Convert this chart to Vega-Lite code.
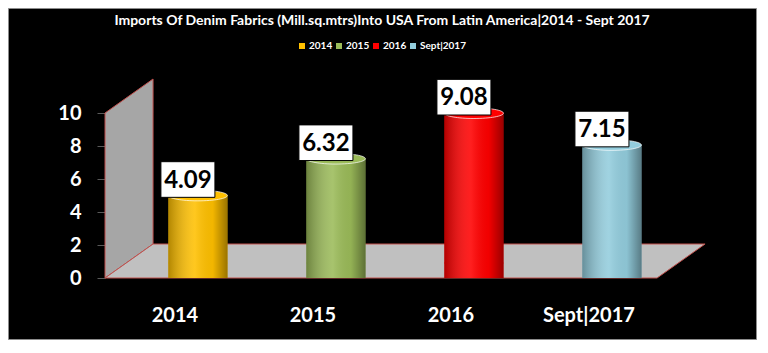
{
  "$schema": "https://vega.github.io/schema/vega-lite/v6.json",
  "width": 748,
  "height": 331,
  "autosize": "none",
  "padding": {"left": 8, "top": 8, "right": 12, "bottom": 14},
  "background": "white",
  "title": {
    "text": "Imports Of Denim Fabrics (Mill.sq.mtrs)Into USA From Latin America|2014 - Sept 2017",
    "color": "white",
    "font": "Lato",
    "fontSize": 14,
    "fontWeight": "bold",
    "anchor": "middle",
    "frame": "group",
    "offset": -20
  },
  "config": {
    "view": {"fill": "black", "stroke": "#8c8c8c", "strokeWidth": 1},
    "font": "Lato",
    "axisY": {
      "offset": -97,
      "domain": false,
      "grid": false,
      "ticks": true,
      "tickColor": "#595959",
      "tickSize": 8,
      "labelPadding": 16,
      "labelColor": "white",
      "labelFont": "Lato",
      "labelFontWeight": "bold",
      "labelFontSize": 20
    },
    "axisX": {
      "offset": -34,
      "domain": false,
      "grid": false,
      "ticks": false,
      "tickSize": 0,
      "labelPadding": 0,
      "labelAngle": 0,
      "labelOffset": -23,
      "labelColor": "white",
      "labelFont": "Lato",
      "labelFontWeight": "bold",
      "labelFontSize": 20
    }
  },
  "datasets": {
    "imports": [
      {"period": "2014", "value": 4.09},
      {"period": "2015", "value": 6.32},
      {"period": "2016", "value": 9.08},
      {"period": "Sept|2017", "value": 7.15}
    ],
    "wall": [
      {"u": -0.674, "lo": 0, "hi": 10},
      {"u": -0.326, "lo": 2.06, "hi": 12.06}
    ],
    "floor": [
      {"d": 0, "u1": -0.674, "u2": 3.326},
      {"d": 2.06, "u1": -0.326, "u2": 3.674}
    ]
  },
  "layer": [
    {
      "layer": [
        {
          "data": {"name": "wall"},
          "mark": {"type": "area", "orient": "vertical", "fill": "#a6a6a6", "stroke": "#c0504d", "strokeWidth": 1},
          "encoding": {
            "x": {"field": "u", "type": "quantitative", "scale": {"domain": [-1.377, 4.043], "nice": false, "zero": false}, "axis": null},
            "y": {"field": "lo", "type": "quantitative", "scale": {"domain": [-3.697, 16.364], "nice": false, "zero": false}, "axis": {"values": [0, 2, 4, 6, 8, 10], "title": null}},
            "y2": {"field": "hi"}
          }
        },
        {
          "data": {"name": "floor"},
          "mark": {"type": "area", "orient": "horizontal", "fill": "#c0c0c0", "stroke": "#c0504d", "strokeWidth": 1},
          "encoding": {
            "y": {"field": "d", "type": "quantitative", "scale": {"domain": [-3.697, 16.364], "nice": false, "zero": false}, "axis": {"values": [0, 2, 4, 6, 8, 10], "title": null}},
            "x": {"field": "u1", "type": "quantitative", "scale": {"domain": [-1.377, 4.043], "nice": false, "zero": false}, "axis": null},
            "x2": {"field": "u2"}
          }
        }
      ]
    },
    {
      "data": {"name": "imports"},
      "encoding": {
        "x": {"field": "period", "type": "nominal", "sort": null, "scale": {"paddingInner": 0, "paddingOuter": 0.71, "align": 0.617}, "axis": {"title": null}}
      },
      "layer": [
        {
          "mark": {"type": "point", "filled": true, "opacity": 1, "shape": "M-1,0A1,0.18,0,1,1,1,0A1,0.18,0,1,1,-1,0Z", "size": 3481, "yOffset": -15},
          "encoding": {
            "y": {"datum": 0, "type": "quantitative", "scale": {"domain": [-3.697, 16.364], "nice": false, "zero": false}, "axis": {"values": [0, 2, 4, 6, 8, 10], "title": null}},
            "color": {"field": "period", "type": "nominal", "sort": null, "scale": {"domain": ["2014", "2015", "2016", "Sept|2017"], "range": ["#ffc000", "#9bbb59", "#ff0000", "#93cddd"]}}
          }
        },
        {
          "mark": {"type": "bar", "width": {"band": 0.43}, "yOffset": -15},
          "encoding": {
            "y": {"field": "value", "type": "quantitative", "scale": {"domain": [-3.697, 16.364], "nice": false, "zero": false}, "axis": {"values": [0, 2, 4, 6, 8, 10], "title": null}},
            "y2": {"datum": 0},
            "color": {
              "field": "period", "type": "nominal", "sort": null,
              "scale": {"domain": ["2014", "2015", "2016", "Sept|2017"], "range": ["#ffc000", "#9bbb59", "#ff0000", "#93cddd"]},
              "legend": {
                "orient": "none", "legendX": 289, "legendY": 33, "direction": "horizontal", "title": null,
                "symbolType": "square", "symbolSize": 36, "symbolStrokeWidth": 0,
                "labelColor": "white", "labelFont": "Lato", "labelFontSize": 10, "labelFontWeight": "bold",
                "labelOffset": 2, "columnPadding": 1
              }
            }
          }
        },
        {
          "mark": {
            "type": "bar", "width": {"band": 0.43}, "yOffset": -15,
            "fill": {"gradient": "linear", "x1": 0, "x2": 1, "y1": 0, "y2": 0, "stops": [
              {"offset": 0, "color": "rgba(0,0,0,0.3)"},
              {"offset": 0.45, "color": "rgba(255,255,255,0.12)"},
              {"offset": 0.75, "color": "rgba(0,0,0,0.05)"},
              {"offset": 1, "color": "rgba(0,0,0,0.4)"}
            ]}
          },
          "encoding": {
            "y": {"field": "value", "type": "quantitative", "scale": {"domain": [-3.697, 16.364], "nice": false, "zero": false}, "axis": {"values": [0, 2, 4, 6, 8, 10], "title": null}},
            "y2": {"datum": 0}
          }
        },
        {
          "mark": {"type": "point", "filled": true, "opacity": 1, "shape": "M-1,0A1,0.18,0,1,1,1,0A1,0.18,0,1,1,-1,0Z", "size": 3481, "yOffset": -15, "stroke": "white", "strokeWidth": 1, "strokeOpacity": 0.7},
          "encoding": {
            "y": {"field": "value", "type": "quantitative", "scale": {"domain": [-3.697, 16.364], "nice": false, "zero": false}, "axis": {"values": [0, 2, 4, 6, 8, 10], "title": null}},
            "color": {"field": "period", "type": "nominal", "sort": null, "scale": {"domain": ["2014", "2015", "2016", "Sept|2017"], "range": ["#ffc000", "#9bbb59", "#ff0000", "#93cddd"]}}
          }
        },
        {
          "mark": {"type": "point", "filled": true, "opacity": 1, "fill": "white", "stroke": "black", "strokeWidth": 1, "shape": "M-1,-0.66L1,-0.66L1,0.66L-1,0.66Z", "size": 2916, "xOffset": -10, "yOffset": -31},
          "encoding": {
            "y": {"field": "value", "type": "quantitative", "scale": {"domain": [-3.697, 16.364], "nice": false, "zero": false}, "axis": {"values": [0, 2, 4, 6, 8, 10], "title": null}}
          }
        },
        {
          "mark": {"type": "text", "font": "Lato", "fontSize": 24, "fontWeight": "bold", "color": "black", "align": "center", "baseline": "middle", "xOffset": -10, "yOffset": -30},
          "encoding": {
            "y": {"field": "value", "type": "quantitative", "scale": {"domain": [-3.697, 16.364], "nice": false, "zero": false}, "axis": {"values": [0, 2, 4, 6, 8, 10], "title": null}},
            "text": {"field": "value", "type": "quantitative", "format": ".2f"}
          }
        }
      ]
    }
  ],
  "resolve": {"scale": {"x": "independent"}}
}
